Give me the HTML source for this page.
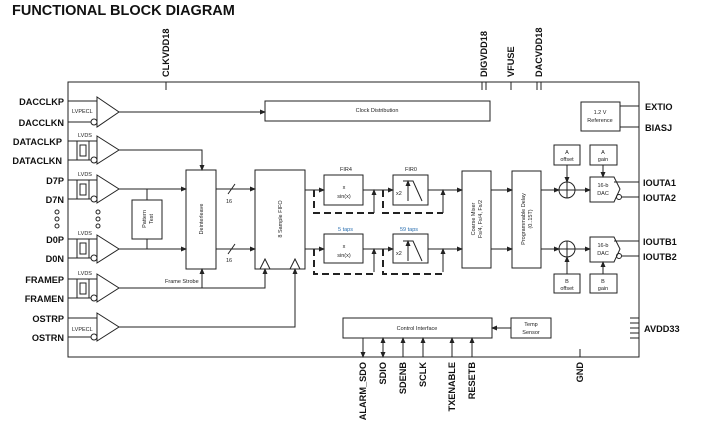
<!DOCTYPE html>
<html><head><meta charset="utf-8"><style>
body{margin:0;background:#fff}
svg{display:block;font-family:"Liberation Sans",sans-serif}
.p{font-weight:bold;font-size:9.2px;fill:#111}
.s{font-size:5.5px;fill:#222}
</style></head><body>
<svg width="705" height="447" viewBox="0 0 705 447" xmlns="http://www.w3.org/2000/svg">
<defs><marker id="a" markerWidth="6" markerHeight="6" refX="5" refY="3" orient="auto" markerUnits="userSpaceOnUse"><path d="M0,0.5 L6,3 L0,5.5z" fill="#222"/></marker></defs>
<text x="12" y="15" font-weight="bold" font-size="14.5" fill="#111">FUNCTIONAL BLOCK DIAGRAM</text>
<g stroke="#222" stroke-width="1" fill="none">
<rect x="68" y="82" width="571" height="275"/>
<path d="M166 82V90 M482 82V90 M486 82V90 M511 82V90 M537 82V90 M541 82V90 M580 349V357"/>
<path d="M630 318H639 M630 323H639 M630 328H639 M630 333H639 M630 338H639"/>
<path d="M68 101H97 M68 122H91 M68 141H97 M68 160H91 M68 180H97 M68 199H91 M68 239H97 M68 258H91 M68 279H97 M68 298H91 M68 318H97 M68 337H91"/>
<path d="M97 97L119 112L97 127Z M97 136L119 150L97 164Z M97 175L119 189L97 203Z M97 235L119 249L97 263Z M97 274L119 288L97 302Z M97 313L119 327L97 341Z"/>
<circle cx="94" cy="122" r="3"/><circle cx="94" cy="160" r="3"/><circle cx="94" cy="199" r="3"/><circle cx="94" cy="258" r="3"/><circle cx="94" cy="298" r="3"/><circle cx="94" cy="337" r="3"/>
<path d="M77 141V160 M89 141V160 M77 180V199 M89 180V199 M77 239V258 M89 239V258 M77 279V298 M89 279V298"/>
<rect x="80" y="145" width="6" height="11"/><rect x="80" y="184" width="6" height="11"/><rect x="80" y="243" width="6" height="11"/><rect x="80" y="283" width="6" height="11"/>
<rect x="265" y="101" width="225" height="20"/>
<rect x="186" y="170" width="30" height="99"/>
<rect x="255" y="170" width="50" height="99"/>
<rect x="132" y="200" width="30" height="39"/>
<path d="M260 269L265 259L270 269 M290 269L295 259L300 269"/>
<rect x="324" y="175" width="39" height="30"/><rect x="324" y="234" width="39" height="29"/>
<rect x="393" y="175" width="35" height="30"/><rect x="393" y="234" width="35" height="29"/>
<rect x="462" y="171" width="29" height="97"/>
<rect x="512" y="171" width="29" height="97"/>
<rect x="554" y="145" width="26" height="20"/><rect x="590" y="145" width="27" height="20"/>
<rect x="554" y="274" width="26" height="19"/><rect x="590" y="274" width="27" height="19"/>
<path d="M590 177H614L620 189L614 202H590Z M590 237H614L620 249L614 262H590Z"/>
<circle cx="567" cy="190" r="8"/><circle cx="567" cy="249" r="8"/>
<path d="M559 190H575 M567 182V198 M559 249H575 M567 241V257"/>
<rect x="581" y="102" width="39" height="29"/>
<path d="M620 106H639 M620 127H639 M614 182H639 M622 197H639 M614 241H639 M622 256H639"/>
<circle cx="619" cy="197" r="2.5"/><circle cx="619" cy="256" r="2.5"/>
<rect x="343" y="318" width="149" height="20"/><rect x="511" y="318" width="40" height="20"/>
<path d="M403 181H413L422 201 M403 241H413L422 261"/>
<path d="M119 112H265" marker-end="url(#a)"/>
<path d="M119 150H202V170" marker-end="url(#a)"/>
<path d="M119 189H186" marker-end="url(#a)"/>
<path d="M119 249H186" marker-end="url(#a)"/>
<path d="M147 189V200 M147 239V249"/>
<path d="M216 189H255" marker-end="url(#a)"/><path d="M216 249H255" marker-end="url(#a)"/>
<path d="M228 194L235 184 M228 254L235 244"/>
<path d="M119 288H265V269" marker-end="url(#a)"/>
<path d="M202 288V269" marker-end="url(#a)"/>
<path d="M119 327H295V269" marker-end="url(#a)"/>
<path d="M305 190H324" marker-end="url(#a)"/><path d="M305 249H324" marker-end="url(#a)"/>
<path d="M363 190H393" marker-end="url(#a)"/><path d="M363 249H393" marker-end="url(#a)"/>
<path d="M428 190H462" marker-end="url(#a)"/><path d="M428 249H462" marker-end="url(#a)"/>
<path d="M491 190H512" marker-end="url(#a)"/><path d="M491 249H512" marker-end="url(#a)"/>
<path d="M541 190H559" marker-end="url(#a)"/><path d="M541 249H559" marker-end="url(#a)"/>
<path d="M575 190H590" marker-end="url(#a)"/><path d="M575 249H590" marker-end="url(#a)"/>
<path d="M567 165V182" marker-end="url(#a)"/><path d="M567 274V257" marker-end="url(#a)"/>
<path d="M603 165V177" marker-end="url(#a)"/><path d="M603 274V262" marker-end="url(#a)"/>
<path d="M374 213V190" marker-end="url(#a)"/><path d="M374 272V249" marker-end="url(#a)"/>
<path d="M443 213V190" marker-end="url(#a)"/><path d="M443 272V249" marker-end="url(#a)"/>
<path d="M408 201V181" marker-end="url(#a)"/><path d="M408 261V241" marker-end="url(#a)"/>
<path d="M511 328H492" marker-end="url(#a)"/>
<path d="M363 338V357" marker-end="url(#a)"/>
<path d="M383 340V357" marker-end="url(#a)"/><path d="M383 345V338" marker-end="url(#a)"/>
<path d="M403 357V338" marker-end="url(#a)"/><path d="M423 357V338" marker-end="url(#a)"/>
<path d="M452 357V338" marker-end="url(#a)"/><path d="M472 357V338" marker-end="url(#a)"/>
<g stroke-width="2" stroke-dasharray="7,4">
<path d="M314 190V213H374 M383 190V213H443 M314 249V274H374 M383 249V274H443"/>
</g>
</g>
<g fill="none" stroke="#222">
<circle cx="57" cy="212" r="2"/><circle cx="57" cy="219" r="2"/><circle cx="57" cy="226" r="2"/>
<circle cx="98" cy="212" r="2"/><circle cx="98" cy="219" r="2"/><circle cx="98" cy="226" r="2"/>
</g>
<g class="p" text-anchor="end">
<text x="64" y="105">DACCLKP</text><text x="64" y="126">DACCLKN</text>
<text x="62" y="145">DATACLKP</text><text x="62" y="164">DATACLKN</text>
<text x="64" y="184">D7P</text><text x="64" y="203">D7N</text>
<text x="64" y="243">D0P</text><text x="64" y="262">D0N</text>
<text x="64" y="283">FRAMEP</text><text x="64" y="302">FRAMEN</text>
<text x="64" y="322">OSTRP</text><text x="64" y="341">OSTRN</text>
</g>
<g class="p">
<text x="645" y="110">EXTIO</text><text x="645" y="131">BIASJ</text>
<text x="643" y="186">IOUTA1</text><text x="643" y="201">IOUTA2</text>
<text x="643" y="245">IOUTB1</text><text x="643" y="260">IOUTB2</text>
<text x="644" y="332">AVDD33</text>
</g>
<g class="p" text-anchor="end" font-size="8.2">
<text transform="translate(169,77) rotate(-90)" text-anchor="start">CLKVDD18</text>
<text transform="translate(487,77) rotate(-90)" text-anchor="start">DIGVDD18</text>
<text transform="translate(514,77) rotate(-90)" text-anchor="start">VFUSE</text>
<text transform="translate(542,77) rotate(-90)" text-anchor="start">DACVDD18</text>
<text transform="translate(366,362) rotate(-90)">ALARM_SDO</text>
<text transform="translate(386,362) rotate(-90)">SDIO</text>
<text transform="translate(406,362) rotate(-90)">SDENB</text>
<text transform="translate(426,362) rotate(-90)">SCLK</text>
<text transform="translate(455,362) rotate(-90)">TXENABLE</text>
<text transform="translate(475,362) rotate(-90)">RESETB</text>
<text transform="translate(583,362) rotate(-90)">GND</text>
</g>
<g class="s">
<text x="72" y="113">LVPECL</text><text x="72" y="331">LVPECL</text>
<text x="78" y="137">LVDS</text><text x="78" y="176">LVDS</text><text x="78" y="235">LVDS</text><text x="78" y="275">LVDS</text>
<text x="165" y="283">Frame Strobe</text>
<text x="226" y="203">16</text><text x="226" y="262">16</text>
<text x="340" y="171">FIR4</text><text x="405" y="171">FIR0</text>
<text x="338" y="231" fill="#2a6fb0">5 taps</text><text x="400" y="231" fill="#2a6fb0">59 taps</text>
<text x="396" y="195">x2</text><text x="396" y="255">x2</text>
<text x="344" y="189" text-anchor="middle">x</text><text x="344" y="198" text-anchor="middle">sin(x)</text>
<text x="344" y="248" text-anchor="middle">x</text><text x="344" y="257" text-anchor="middle">sin(x)</text>
<text x="377" y="112" text-anchor="middle">Clock Distribution</text>
<text x="417" y="330" text-anchor="middle">Control Interface</text>
<text x="531" y="326" text-anchor="middle">Temp</text><text x="531" y="334" text-anchor="middle">Sensor</text>
<text x="600" y="114" text-anchor="middle">1.2 V</text><text x="600" y="122" text-anchor="middle">Reference</text>
<text x="567" y="154" text-anchor="middle">A</text><text x="567" y="161" text-anchor="middle">offset</text>
<text x="603" y="154" text-anchor="middle">A</text><text x="603" y="161" text-anchor="middle">gain</text>
<text x="567" y="283" text-anchor="middle">B</text><text x="567" y="290" text-anchor="middle">offset</text>
<text x="603" y="283" text-anchor="middle">B</text><text x="603" y="290" text-anchor="middle">gain</text>
<text x="603" y="187" text-anchor="middle">16-b</text><text x="603" y="195" text-anchor="middle">DAC</text>
<text x="603" y="247" text-anchor="middle">16-b</text><text x="603" y="255" text-anchor="middle">DAC</text>
<text transform="translate(146,219) rotate(-90)" text-anchor="middle">Pattern</text>
<text transform="translate(153,219) rotate(-90)" text-anchor="middle">Test</text>
<text transform="translate(203,219) rotate(-90)" text-anchor="middle">Deinterleave</text>
<text transform="translate(282,219) rotate(-90)" text-anchor="middle">8 Sample FIFO</text>
<text transform="translate(475,219) rotate(-90)" text-anchor="middle">Coarse Mixer</text>
<text transform="translate(482,219) rotate(-90)" text-anchor="middle">Fs/4, Fs/4, Fs/2</text>
<text transform="translate(525,219) rotate(-90)" text-anchor="middle">Programmable Delay</text>
<text transform="translate(532,219) rotate(-90)" text-anchor="middle">(0..15T)</text>
</g>
</svg>
</body></html>
